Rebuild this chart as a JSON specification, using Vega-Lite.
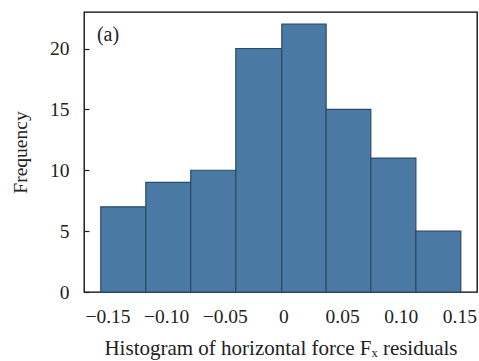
{
  "$schema": "https://vega.github.io/schema/vega-lite/v6.json",
  "width": 393,
  "height": 280,
  "autosize": "none",
  "padding": {"left": 84, "top": 12, "right": 2, "bottom": 69},
  "background": "white",
  "config": {
    "view": {"stroke": "black", "strokeWidth": 1.3},
    "font": "Liberation Serif",
    "axis": {
      "labelFont": "Liberation Serif",
      "titleFont": "Liberation Serif",
      "labelFontSize": 19.5,
      "titleFontSize": 19.5,
      "labelColor": "#222",
      "titleColor": "#222",
      "titleFontWeight": "normal",
      "grid": false,
      "domain": false,
      "tickColor": "#222",
      "tickSize": -5,
      "tickWidth": 1.2,
      "zindex": 1
    }
  },
  "data": {
    "values": [
      {"start": -0.1557, "end": -0.1173, "count": 7},
      {"start": -0.1173, "end": -0.0790, "count": 9},
      {"start": -0.0790, "end": -0.0406, "count": 10},
      {"start": -0.0406, "end": -0.0014, "count": 20},
      {"start": -0.0014, "end": 0.0364, "count": 22},
      {"start": 0.0364, "end": 0.0745, "count": 15},
      {"start": 0.0745, "end": 0.1129, "count": 11},
      {"start": 0.1129, "end": 0.1512, "count": 5}
    ]
  },
  "layer": [
    {
      "mark": {"type": "rect", "fill": "#4a7aa4", "stroke": "#2b4a6a", "strokeWidth": 1.2},
      "encoding": {
        "x": {
          "field": "start", "type": "quantitative",
          "scale": {"domain": [-0.17, 0.165], "nice": false, "zero": false},
          "axis": {
            "values": [-0.15, -0.1, -0.05, 0, 0.05, 0.1, 0.15],
            "labelExpr": "datum.value == 0 ? '0' : replace(format(datum.value, '.2f'), '-', '\u2212')",
            "labelPadding": 20,
            "title": "Histogram of horizontal force F\u2093 residuals",
            "titleFontSize": 21,
            "titlePadding": 12
          }
        },
        "x2": {"field": "end"},
        "y": {
          "field": "count", "type": "quantitative",
          "scale": {"domain": [0, 23], "nice": false},
          "axis": {
            "values": [0, 5, 10, 15, 20],
            "labelPadding": 20,
            "title": "Frequency",
            "titlePadding": 19
          }
        },
        "y2": {"datum": 0}
      }
    },
    {
      "data": {"values": [{"x": -0.159, "y": 21.1, "label": "(a)"}]},
      "mark": {"type": "text", "align": "left", "baseline": "middle", "font": "Liberation Serif", "fontSize": 20, "color": "#222"},
      "encoding": {
        "x": {"field": "x", "type": "quantitative"},
        "y": {"field": "y", "type": "quantitative"},
        "text": {"field": "label"}
      }
    }
  ]
}
